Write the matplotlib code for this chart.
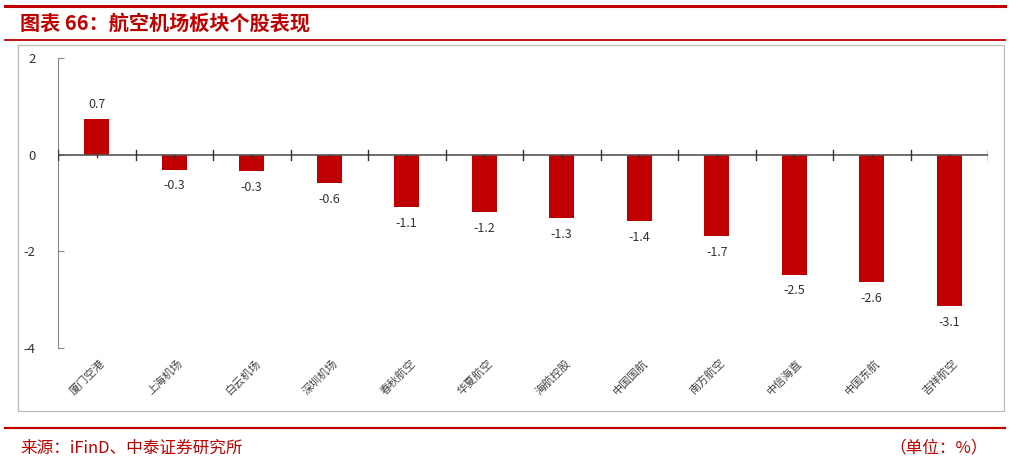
import matplotlib.pyplot as plt
from matplotlib.patches import Rectangle
from matplotlib.lines import Line2D

plt.rcParams['font.family'] = ['Noto Sans CJK SC', 'DejaVu Sans']

stocks = ["厦门空港", "上海机场", "白云机场", "深圳机场", "春秋航空", "华夏航空",
          "海航控股", "中国国航", "南方航空", "中信海直", "中国东航", "吉祥航空"]
changes = [0.74, -0.31, -0.34, -0.59, -1.09, -1.19, -1.32, -1.37, -1.69, -2.48, -2.63, -3.13]
yticks = [-4, -2, 0, 2]

red = "#C00000"
W, H = 1011, 463

fig = plt.figure(figsize=(W / 100, H / 100), dpi=100)

def px(x0, y0, x1, y1):
    # pixel box -> figure fraction [left, bottom, width, height]
    return [x0 / W, 1 - y1 / H, (x1 - x0) / W, (y1 - y0) / H]

# header / footer decoration
fig.add_artist(Line2D([5 / W, 1005 / W], [1 - 6 / H, 1 - 6 / H], color=red, lw=2.2))
fig.add_artist(Line2D([5 / W, 1005 / W], [1 - 40 / H, 1 - 40 / H], color=red, lw=1.3))
fig.add_artist(Line2D([5 / W, 1005 / W], [1 - 428 / H, 1 - 428 / H], color=red, lw=1.6))
fig.text(20 / W, 1 - 23 / H, "图表 66：航空机场板块个股表现", color=red, fontsize=14.5,
         fontweight="bold", style="italic", va="center", ha="left")
fig.text(20 / W, 1 - 448 / H, "来源：iFinD、中泰证券研究所", color=red, fontsize=12,
         va="center", ha="left")
fig.text(988 / W, 1 - 448 / H, "（单位：%）", color=red, fontsize=12, va="center", ha="right")

# chart frame
fig.add_artist(Rectangle((18 / W, 1 - 411 / H), (1004 - 18) / W, (411 - 45) / H,
                         fill=False, ec="#BBBBBB", lw=0.9, transform=fig.transFigure))

ax = fig.add_axes(px(58, 58, 988, 348))
n = len(stocks)
xs = list(range(n))
ax.bar(xs, changes, width=0.32, color=red, zorder=2)
ax.set_xlim(-0.5, n - 0.5)
ax.set_ylim(-4, 2)
ax.set_yticks(yticks)
ax.set_yticklabels([str(t) for t in yticks], fontsize=9.5, color="#333333")
ax.tick_params(axis="y", direction="in", length=4, color="#888888", pad=16)

for s in ["top", "right", "bottom"]:
    ax.spines[s].set_visible(False)
ax.spines["left"].set_color("#888888")
ax.axhline(0, color="#555555", lw=1.2, zorder=3)
for b in [i - 0.5 for i in range(n + 1)]:
    ax.plot([b, b], [-0.1, 0.1], color="#333333", lw=1, zorder=3)
for x in xs:
    ax.plot([x, x], [-0.05, 0.0], color="#333333", lw=1, zorder=3)

ax.set_xticks(xs)
ax.set_xticklabels([])
ax.tick_params(axis="x", length=0)
for x, name in zip(xs, stocks):
    ax.annotate(name, (x, -4), xytext=(2, -7), textcoords="offset points",
                rotation=45, ha="right", va="top", fontsize=8, color="#444444",
                rotation_mode="anchor")

for x, v in zip(xs, changes):
    if v >= 0:
        ax.annotate(f"{v:.1f}", (x, v), xytext=(0, 6), textcoords="offset points",
                    ha="center", va="bottom", fontsize=9, color="#333333")
    else:
        ax.annotate(f"{v:.1f}", (x, v), xytext=(0, -7), textcoords="offset points",
                    ha="center", va="top", fontsize=9, color="#333333")

fig.savefig("out.png", dpi=100)
